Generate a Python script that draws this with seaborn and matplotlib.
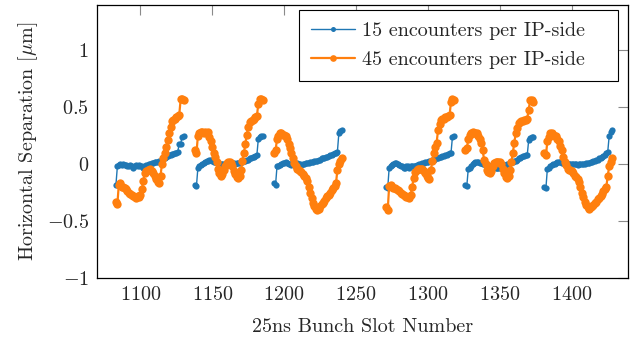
import numpy as np
import pandas as pd
import matplotlib
matplotlib.use("Agg")
import matplotlib.pyplot as plt
from matplotlib.lines import Line2D
from matplotlib.ticker import FuncFormatter
import seaborn as sns

# Filling scheme: six trains of 48 bunches
train_first_slot = [1083, 1138, 1193, 1271, 1326, 1381]

# Horizontal separation per bunch [um], 15 encounters per IP-side
sep15_t1 = [-0.18, -0.02, -0.01, 0.0, -0.01, 0.0, -0.01, -0.01, -0.02, -0.02,
            -0.01, -0.02, -0.03, -0.02, -0.01, -0.02, -0.01, -0.02, -0.02, -0.03,
            -0.02, -0.01, -0.01, 0.0, 0.0, 0.01, 0.01, 0.02, 0.02, 0.02,
            0.03, 0.03, 0.04, 0.05, 0.05, 0.06, 0.07, 0.08, 0.08, 0.09,
            0.09, 0.10, 0.10, 0.11, 0.18, 0.18, 0.24, 0.25]
sep15_t2 = [-0.18, -0.19, -0.03, -0.02, -0.01, 0.0, 0.01, 0.02, 0.03, 0.03,
            0.04, 0.04, 0.03, 0.02, 0.02, 0.01, 0.01, 0.0, 0.0, 0.0,
            0.0, -0.01, -0.01, 0.0, 0.0, 0.0, 0.01, 0.01, 0.0, 0.01,
            0.01, 0.01, 0.02, 0.02, 0.03, 0.03, 0.04, 0.04, 0.05, 0.05,
            0.06, 0.06, 0.07, 0.08, 0.22, 0.24, 0.25, 0.25]
sep15_t3 = [-0.17, -0.18, -0.02, -0.02, -0.01, 0.0, 0.01, 0.01, 0.02, 0.01,
            0.0, 0.0, -0.01, 0.0, 0.0, 0.0, 0.01, 0.0, 0.0, -0.01,
            0.0, 0.0, 0.01, 0.01, 0.01, 0.02, 0.02, 0.02, 0.03, 0.03,
            0.03, 0.04, 0.04, 0.05, 0.05, 0.05, 0.06, 0.06, 0.07, 0.08,
            0.08, 0.09, 0.10, 0.10, 0.11, 0.27, 0.29, 0.30]
sep15_t4 = [-0.20, -0.21, -0.03, -0.02, -0.01, 0.0, 0.01, 0.01, 0.0, -0.01,
            -0.02, -0.02, -0.03, -0.03, -0.02, -0.02, -0.03, -0.02, -0.02, -0.02,
            -0.02, -0.01, -0.01, 0.0, 0.0, 0.01, 0.01, 0.02, 0.02, 0.02,
            0.03, 0.03, 0.04, 0.04, 0.05, 0.05, 0.05, 0.06, 0.06, 0.07,
            0.07, 0.08, 0.08, 0.09, 0.10, 0.10, 0.24, 0.25]
sep15_t5 = [-0.18, -0.19, -0.04, -0.03, -0.02, 0.0, 0.01, 0.02, 0.02, 0.02,
            0.01, 0.01, 0.0, 0.0, -0.01, -0.01, -0.01, -0.02, -0.02, -0.02,
            -0.02, -0.03, -0.03, -0.03, -0.03, -0.02, -0.02, -0.01, -0.01, 0.0,
            0.0, 0.01, 0.02, 0.02, 0.03, 0.03, 0.04, 0.05, 0.05, 0.06,
            0.07, 0.07, 0.08, 0.08, 0.21, 0.23, 0.24, 0.24]
sep15_t6 = [-0.20, -0.21, -0.04, -0.03, -0.02, -0.01, 0.0, 0.0, 0.01, 0.02,
            0.02, 0.02, 0.01, 0.01, 0.01, 0.01, 0.0, 0.0, 0.0, 0.0,
            0.0, 0.0, 0.0, -0.01, 0.0, 0.0, 0.0, 0.0, 0.0, 0.01,
            0.01, 0.01, 0.02, 0.02, 0.03, 0.03, 0.04, 0.04, 0.05, 0.05,
            0.06, 0.07, 0.08, 0.10, 0.11, 0.25, 0.28, 0.30]

# Horizontal separation per bunch [um], 45 encounters per IP-side
sep45_t1 = [-0.33, -0.35, -0.18, -0.17, -0.20, -0.20, -0.21, -0.22, -0.24, -0.25,
            -0.26, -0.27, -0.28, -0.29, -0.30, -0.28, -0.29, -0.27, -0.22, -0.15,
            -0.08, -0.06, -0.05, -0.05, -0.04, -0.06, -0.08, -0.10, -0.13, -0.16,
            -0.17, -0.10, 0.0, 0.05, 0.10, 0.15, 0.21, 0.27, 0.33, 0.38,
            0.39, 0.40, 0.41, 0.42, 0.43, 0.57, 0.57, 0.56]
sep45_t2 = [0.12, 0.10, 0.25, 0.27, 0.28, 0.28, 0.27, 0.28, 0.27, 0.28,
            0.24, 0.20, 0.15, 0.10, 0.06, 0.02, -0.04, -0.08, -0.10, -0.09,
            -0.05, -0.02, 0.01, 0.02, 0.02, 0.01, -0.02, -0.06, -0.09, -0.11,
            -0.12, -0.10, -0.05, 0.03, 0.10, 0.18, 0.26, 0.33, 0.37, 0.38,
            0.39, 0.40, 0.41, 0.42, 0.53, 0.57, 0.57, 0.56]
sep45_t3 = [0.10, 0.12, 0.22, 0.25, 0.27, 0.27, 0.26, 0.26, 0.25, 0.22,
            0.18, 0.14, 0.10, 0.05, 0.01, -0.02, -0.04, -0.05, -0.06, -0.07,
            -0.09, -0.10, -0.12, -0.15, -0.20, -0.25, -0.30, -0.34, -0.37, -0.39,
            -0.40, -0.39, -0.37, -0.35, -0.34, -0.32, -0.30, -0.28, -0.27, -0.25,
            -0.23, -0.21, -0.19, -0.17, -0.05, 0.0, 0.03, 0.05]
sep45_t4 = [-0.38, -0.40, -0.19, -0.18, -0.20, -0.21, -0.21, -0.22, -0.23, -0.24,
            -0.25, -0.26, -0.27, -0.28, -0.29, -0.29, -0.30, -0.27, -0.20, -0.12,
            -0.07, -0.05, -0.04, -0.04, -0.04, -0.04, -0.06, -0.08, -0.10, -0.12,
            -0.13, -0.05, 0.03, 0.10, 0.15, 0.19, 0.30, 0.35, 0.39, 0.40,
            0.40, 0.41, 0.41, 0.42, 0.43, 0.55, 0.57, 0.56]
sep45_t5 = [0.12, 0.14, 0.22, 0.26, 0.27, 0.28, 0.27, 0.27, 0.27, 0.25,
            0.22, 0.19, 0.12, 0.04, 0.0, -0.05, -0.07, -0.08, -0.06, -0.02,
            0.01, 0.02, 0.02, 0.02, 0.02, 0.0, -0.04, -0.08, -0.11, -0.12,
            -0.10, -0.05, 0.02, 0.10, 0.19, 0.27, 0.32, 0.36, 0.37, 0.38,
            0.38, 0.39, 0.39, 0.40, 0.48, 0.56, 0.56, 0.55]
sep45_t6 = [0.10, 0.08, 0.20, 0.24, 0.27, 0.27, 0.26, 0.25, 0.25, 0.22,
            0.20, 0.16, 0.12, 0.06, 0.02, -0.01, -0.04, -0.05, -0.05, -0.06,
            -0.08, -0.10, -0.11, -0.13, -0.16, -0.20, -0.25, -0.29, -0.33, -0.36,
            -0.38, -0.39, -0.38, -0.37, -0.36, -0.34, -0.33, -0.31, -0.30, -0.28,
            -0.26, -0.24, -0.22, -0.20, -0.10, -0.02, 0.02, 0.05]

series_labels = ["15 encounters per IP-side", "45 encounters per IP-side"]
series_trains = [
    [sep15_t1, sep15_t2, sep15_t3, sep15_t4, sep15_t5, sep15_t6],
    [sep45_t1, sep45_t2, sep45_t3, sep45_t4, sep45_t5, sep45_t6],
]

frames = []
for label, trains in zip(series_labels, series_trains):
    for k, (first, vals) in enumerate(zip(train_first_slot, trains)):
        frames.append(pd.DataFrame({
            "slot": first + np.arange(len(vals)),
            "sep": vals,
            "series": label,
            "train": k,
        }))
df = pd.concat(frames, ignore_index=True)

FS = 14.5

sns.set_style("white")
plt.rcParams.update({
    "font.family": "serif",
    "font.serif": ["cmr10"],
    "mathtext.fontset": "cm",
    "axes.formatter.use_mathtext": True,
    "font.size": FS,
})

fig = plt.figure(figsize=(6.44, 3.44), dpi=100)
ax = fig.add_axes([0.151, 0.192, 0.824, 0.794])

styles = [
    dict(color="#1f77b4", linewidth=1.0, markersize=4.5),
    dict(color="#ff7f0e", linewidth=1.6, markersize=6.0),
]
for label, st in zip(series_labels, styles):
    sns.lineplot(data=df[df["series"] == label], x="slot", y="sep",
                 units="train", estimator=None, ax=ax,
                 color=st["color"], linewidth=st["linewidth"],
                 marker="o", markersize=st["markersize"],
                 markeredgewidth=0, legend=False)

ax.set_xlim(1070, 1439)
ax.set_ylim(-1, 1.4)
ax.set_xticks([1100, 1150, 1200, 1250, 1300, 1350, 1400])
ax.set_yticks([-1, -0.5, 0, 0.5, 1])
ax.yaxis.set_major_formatter(FuncFormatter(lambda v, p: f"${v:g}$"))
ax.xaxis.set_major_formatter(FuncFormatter(lambda v, p: f"${v:.0f}$"))

ax.tick_params(direction="in", top=True, right=True, length=7,
               width=0.8, color="#8a8a8a", labelsize=FS)
ax.tick_params(axis="x", pad=6)
ax.tick_params(axis="y", pad=6)
for sp in ax.spines.values():
    sp.set_color("black")
    sp.set_linewidth(0.9)

ax.set_xlabel("25ns Bunch Slot Number", fontsize=FS, labelpad=10)
ax.set_ylabel(r"Horizontal Separation [$\mu$m]", fontsize=FS, labelpad=5)

handles = [
    Line2D([], [], color=st["color"], linewidth=st["linewidth"], marker="o",
           markersize=st["markersize"] * 0.8, markeredgewidth=0)
    for st in styles
]
leg = ax.legend(handles, series_labels, loc="upper left",
                bbox_to_anchor=(0.380, 0.5, 0.601, 0.481), mode="expand",
                borderaxespad=0, frameon=True, fancybox=False,
                edgecolor="black", framealpha=1, handlelength=2.2,
                handletextpad=0.35, borderpad=0.6, labelspacing=0.55,
                fontsize=FS)
leg.get_frame().set_linewidth(0.8)

fig.savefig("out.png", dpi=100)
